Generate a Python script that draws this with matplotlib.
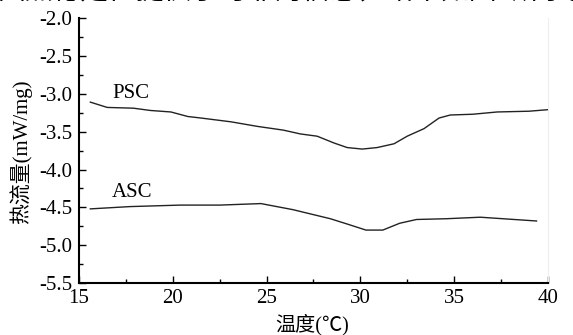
import matplotlib
matplotlib.use("Agg")
import matplotlib.pyplot as plt
from matplotlib.ticker import MultipleLocator

plt.rcParams['font.family'] = ['Liberation Serif', 'Noto Sans CJK SC']

# PSC curve
psc_t = [15.6, 16.5, 17.9, 18.8, 19.9, 20.8, 21.5, 23.1, 24.5, 25.9, 26.8, 27.7,
         28.6, 29.3, 30.1, 30.9, 31.8, 32.5, 33.4, 34.2, 34.8, 36.0, 37.3, 39.0, 40.0]
psc_q = [-3.11, -3.18, -3.19, -3.22, -3.24, -3.30, -3.32, -3.37, -3.43, -3.48, -3.53, -3.56,
         -3.65, -3.71, -3.73, -3.71, -3.66, -3.56, -3.46, -3.32, -3.28, -3.27, -3.24, -3.23, -3.21]

# ASC curve
asc_t = [15.6, 17.7, 20.4, 22.5, 24.7, 26.4, 28.4, 29.3, 30.3, 31.2, 32.1, 33.0,
         34.6, 36.4, 38.2, 39.4]
asc_q = [-4.52, -4.49, -4.47, -4.47, -4.45, -4.53, -4.65, -4.72, -4.80, -4.80, -4.71, -4.66,
         -4.65, -4.63, -4.66, -4.68]

yticks = [-2.0, -2.5, -3.0, -3.5, -4.0, -4.5, -5.0, -5.5]

fig = plt.figure(figsize=(5.73, 3.35), dpi=100)
ax = fig.add_axes([0.138, 0.155, 0.818, 0.791])

ax.plot(psc_t, psc_q, color='#222222', lw=1.0)
ax.plot(asc_t, asc_q, color='#222222', lw=1.0)
ax.text(16.75, -3.0, 'PSC', fontsize=15, va='center', ha='left')
ax.text(16.75, -4.31, 'ASC', fontsize=15, va='center', ha='left')

ax.set_xlim(15, 40)
ax.set_ylim(-5.5, -2.0)
ax.xaxis.set_major_locator(MultipleLocator(5))
ax.xaxis.set_minor_locator(MultipleLocator(2.5))
ax.yaxis.set_minor_locator(MultipleLocator(0.25))
ax.set_yticks(yticks)
ax.set_yticklabels(['%.1f' % v for v in yticks])
ax.tick_params(which='both', direction='in', labelsize=15, width=1.0)
ax.tick_params(axis='y', pad=5)
ax.tick_params(axis='x', pad=4)
ax.tick_params(which='major', length=5)
ax.tick_params(which='minor', length=3)
ax.tick_params(axis='y', which='both', right=False)
ax.tick_params(axis='x', which='both', top=False)

ax.spines['top'].set_visible(False)
ax.spines['right'].set_color('#eeeeee')
ax.spines['right'].set_linewidth(0.8)
ax.spines['left'].set_linewidth(1.5)
ax.spines['bottom'].set_linewidth(1.5)

ax.set_xlabel('温度(℃)', fontsize=14.5)
ax.set_ylabel('热流量(mW/mg)', fontsize=15)
ax.xaxis.set_label_coords(0.497, -0.115)
ax.yaxis.set_label_coords(-0.100, 0.494)

# cut-off line of body text above the figure
fig.text(-0.005, 1.024, '图热稳定性提供了可靠的信息，结果如图3所示。',
         fontsize=20, family=['Noto Sans CJK SC'], va='center', ha='left')

fig.savefig('out.png', dpi=100)
